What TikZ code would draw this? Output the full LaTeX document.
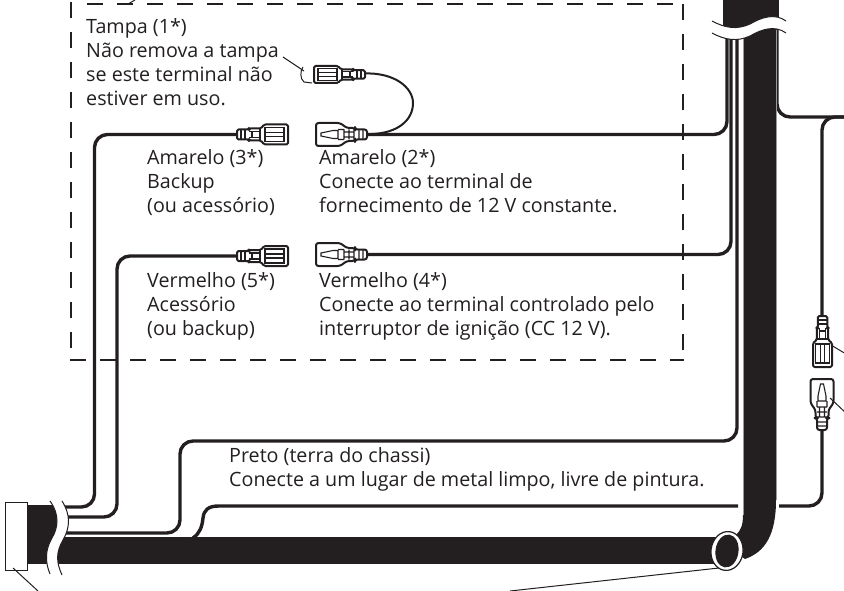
\documentclass[tikz,border=0pt]{standalone}
\usepackage{fontspec}
\setmainfont{Open Sans}
\definecolor{ink}{HTML}{231F20}
\tikzset{
  wire/.style={draw=ink,line width=3.4pt,rounded corners=13pt},
  thinline/.style={draw=ink,line width=1pt},
  edgegray/.style={draw=ink!45,line width=1pt},
  dashbox/.style={draw=ink,line width=1.2pt},
  label/.style={anchor=north west,inner sep=0pt,align=left,text=ink,font=\fontsize{19.7}{24}\selectfont},
  conn/.style={draw=ink,line width=2pt,fill=white,line join=round},
  detail/.style={draw=ink,line width=1.1pt},
  pics/femaleplug/.style={code={
    \path[conn,rounded corners=1.5pt] (0,-5)--(12,-5)--(12,-6)--(24,-6)--(27,-10)--(51,-10)--(51,10)--(27,10)--(24,6)--(12,6)--(12,5)--(0,5)--cycle;
    \draw[detail] (4,-5)--(4,5) (8,-5)--(8,5) (12,-3)--(23,-3) (12,3)--(23,3) (15,-3)--(15,3) (23,-6)--(23,6);
    \draw[detail] (28,-7)--(47,-7)--(47,7)--(28,7)--cycle (29,-2)--(47,-2) (29,2)--(47,2);
  }},
  pics/maleplug/.style={code={
    \path[conn,rounded corners=2.5pt] (0,-11.5)--(24,-11.5)--(31,-6.5)--(39,-6.5)--(39,-5)--(51,-5)--(51,5)--(39,5)--(39,6.5)--(31,6.5)--(24,11.5)--(0,11.5)--cycle;
    \draw[detail] (5,-1.5)--(17,-4)--(22,-4)--(22,4)--(17,4)--(5,1.5)--cycle (22,-5)--(28,-5) (22,5)--(28,5) (28,-5)--(28,5)
       (28,-2.5)--(38,-2.5) (28,2.5)--(38,2.5) (33,-5)--(33,5) (38,-5)--(38,5) (43,-5)--(43,5) (47,-5)--(47,5);
  }}
}
\begin{document}
\begin{tikzpicture}[x=1pt,y=-1pt]
\useasboundingbox (0,0) rectangle (844,591);
\clip (0,0) rectangle (844,591);
% dashed frame
\draw[dashbox,dash pattern=on 16pt off 14pt] (87,4)--(684,4);
\draw[dashbox,dash pattern=on 16pt off 14pt] (71,2)--(71,352);
\draw[dashbox,dash pattern=on 16pt off 14pt] (683,4)--(683,352);
\draw[dashbox,dash pattern=on 16pt off 14pt] (70,360)--(684,360);
\draw[thinline] (128,4)--(135,0);
% wires
\coordinate (plugTwoEnd) at (367,134.5);
\coordinate (plugFourEnd) at (367,254.5);
\coordinate (plugThreeEnd) at (237,134.5);
\coordinate (plugFiveEnd) at (237,256);
\draw[wire] (plugTwoEnd)--(727,134.5)--(727,25);
\draw[wire] (plugFourEnd)--(731,254.5)--(731,25);
\draw[wire] (737,25)--(737,441)--(180,441)--(180,533)--(62,533);
\draw[wire] (plugThreeEnd)--(94.5,134.5)--(94.5,507)--(62,507);
\draw[wire] (plugFiveEnd)--(117,256)--(117,517)--(62,517);
\draw[draw=ink,line width=3.4pt] (738,506)--(219,506) .. controls (208,506) and (204,510) .. (203,518) .. controls (202,527) and (200,533) .. (193,538);
\draw[wire] (779,506)--(822,506)--(822,430);
\draw[wire] (777,25)--(777,117)--(844,117);
\draw[wire] (844,117)--(822,117)--(822,318);
\draw[ink,line width=2pt] (363,73.5) .. controls (395,72) and (413,88) .. (413,103) .. controls (413,120) and (398,133) .. (372,134);
% trunk
\fill[ink] (743,25)--(776,25)--(776,500) .. controls (776,535) and (765,552) .. (745,559)--(725,545)--(736,535) .. controls (741,530) and (743,525) .. (743,515)--cycle;
\draw[edgegray] (743,25)--(743,515) (776.5,20)--(776.5,500);
\fill[white] (738.5,497) rectangle (742.4,515);
\fill[white] (777,497) rectangle (779,515);
\fill[ink] (720,537) rectangle (60,564);
\fill[ink] (27,505) rectangle (60,564);
\fill[ink] (723,0) rectangle (779,30);
% breaks
\fill[white] (712,21) .. controls (725,28) and (737,30) .. (750,24) .. controls (762,17) and (775,13) .. (786,21)--(786,33) .. controls (775,25) and (762,29) .. (750,36) .. controls (737,42) and (725,40) .. (712,33)--cycle;
\draw[thinline] (712,21) .. controls (725,28) and (737,30) .. (750,24) .. controls (762,17) and (775,13) .. (786,21);
\draw[thinline] (712,33) .. controls (725,40) and (737,42) .. (750,36) .. controls (762,29) and (775,25) .. (786,33);
\fill[white] (50,501) .. controls (60,515) and (58,528) .. (52,538) .. controls (45,550) and (45,562) .. (50,574)--(62,575) .. controls (56,562) and (56,552) .. (63,540) .. controls (70,528) and (71,515) .. (62,501)--cycle;
\draw[thinline] (50,501) .. controls (60,515) and (58,528) .. (52,538) .. controls (45,550) and (45,562) .. (50,574);
\draw[thinline] (62,575) .. controls (56,562) and (56,552) .. (63,540) .. controls (70,528) and (71,515) .. (62,501);
% end ring and harness connector
\draw[ink,line width=1.2pt,fill=white,rotate around={-8:(727,551)}] (727,551) ellipse (16pt and 19.5pt);
\draw[ink,line width=1pt,fill=ink,rotate around={-8:(727,551)}] (727,551) ellipse (11pt and 16pt);
\draw[thinline,fill=white] (5,502) rectangle (27,570);
% plugs
\path (plugThreeEnd) pic {femaleplug};
\path (316,134.5) pic {maleplug};
\path (237,256) pic {femaleplug};
\path (316,254.5) pic {maleplug};
\path (365,74.5) pic[rotate=180,yscale=.85] {femaleplug};
\path (822.5,316) pic[rotate=-90,yscale=.95] {femaleplug};
\path (822,379) pic[rotate=-90] {maleplug};
\draw[thinline] (303,67)..controls (300,71) and (300,79)..(304,82)--(312,83);
% pointers
\coordinate (tampaA) at (283,57); \coordinate (tampaB) at (304,71);
\draw[thinline] (tampaA)--(tampaB);
\draw[thinline] (831,345)--(846,354);
\draw[thinline] (830,398)--(846,413);
\draw[thinline] (13,568)--(38,591);
\draw[thinline] (719,568)--(510,591);
% labels
\node[label] (tampa) at (86,18) {Tampa (1*)\\Não remova a tampa\\se este terminal não\\estiver em uso.};
\node[label] (am3) at (147,149) {Amarelo (3*)\\Backup\\(ou acessório)};
\node[label] (am2) at (319,149) {Amarelo (2*)\\Conecte ao terminal de\\fornecimento de 12 V constante.};
\node[label] (ve5) at (147,272) {Vermelho (5*)\\Acessório\\(ou backup)};
\node[label] (ve4) at (319,272) {Vermelho (4*)\\Conecte ao terminal controlado pelo\\interruptor de ignição (CC 12 V).};
\node[label] (preto) at (229,447) {Preto (terra do chassi)\\Conecte a um lugar de metal limpo, livre de pintura.};
\end{tikzpicture}
\end{document}
